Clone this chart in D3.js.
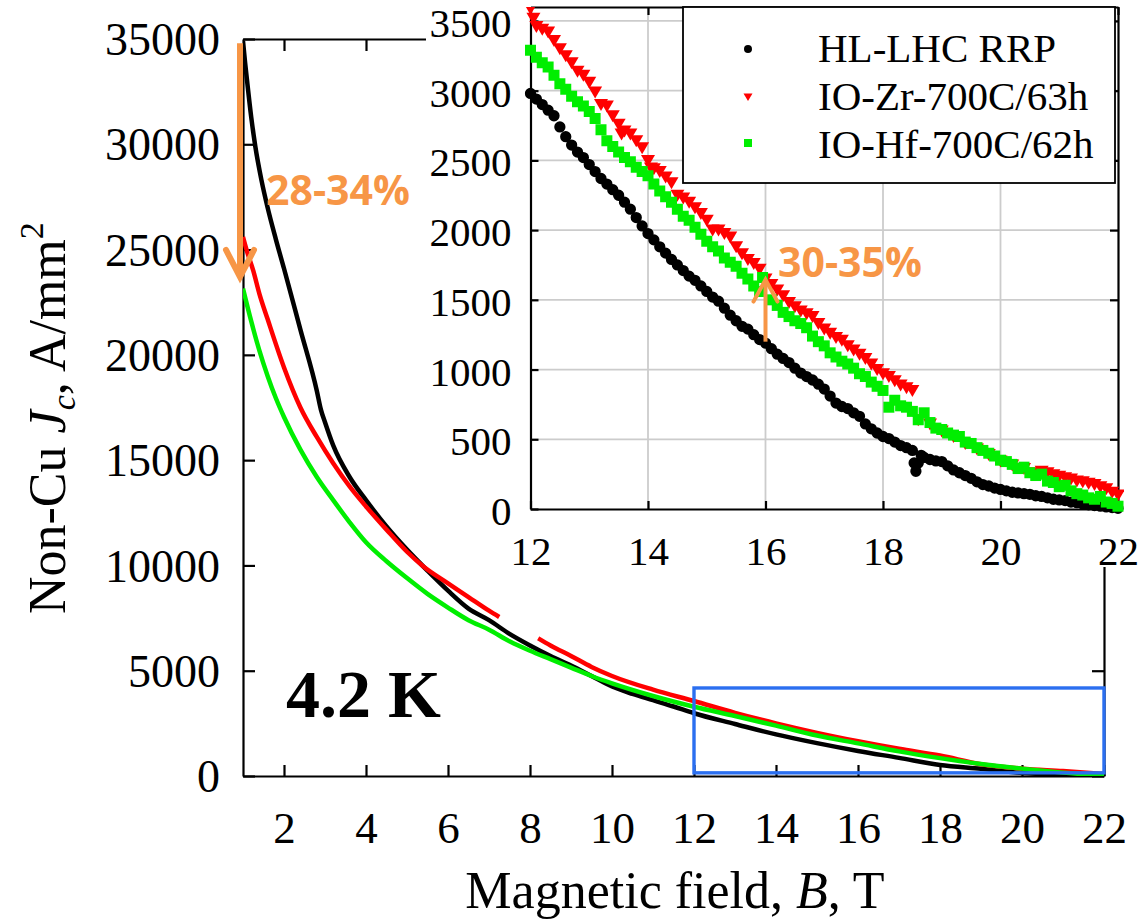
<!DOCTYPE html>
<html>
<head>
<meta charset="utf-8">
<script src="https://cdn.jsdelivr.net/npm/d3@7"></script>
<style>
  html, body { margin: 0; padding: 0; background: #fff; }
  svg text { font-family: "Liberation Serif", "Times New Roman", serif; }
</style>
</head>
<body>
<svg id="chart" width="1140" height="923"></svg>
<script>
// ---------------- DATA ----------------
const mainXTicks = [2, 4, 6, 8, 10, 12, 14, 16, 18, 20, 22];
const mainYTicks = [0, 5000, 10000, 15000, 20000, 25000, 30000, 35000];
const insetXTicks = [12, 14, 16, 18, 20, 22];
const insetYTicks = [0, 500, 1000, 1500, 2000, 2500, 3000, 3500];

const seriesNames = ["HL-LHC RRP", "IO-Zr-700C/63h", "IO-Hf-700C/62h"];
const seriesColors = ["#000000", "#ff0000", "#00ee00"];

// main panel (B [T], non-Cu Jc [A/mm2])
const mainRRP = [[1.0,34900],[1.05,33900],[1.1,33000],[1.2,31300],[1.3,29900],[1.45,28300],[1.6,27000],[1.8,25500],[2.0,24100],[2.4,21200],[2.8,18300],[2.9,17400],[3.0,16800],[3.2,15700],[3.6,14200],[4.0,13100],[4.5,11850],[5.0,10750],[5.5,9750],[6.0,8800],[6.5,7950],[7.0,7400],[7.5,6750],[8.0,6200],[8.5,5700],[9.0,5250],[9.5,4750],[10.0,4250],[10.5,3900],[11.0,3600],[11.5,3300],[12.0,2980],[13.0,2470],[14.0,1975],[15.0,1560],[16.0,1190],[17.0,860],[18.0,520],[19.0,340],[20.0,140],[21.0,65],[22.0,5]];
const mainZr = [[1.0,25600],[1.1,24900],[1.25,24000],[1.4,22900],[1.6,21700],[2.0,19400],[2.4,17500],[2.8,16100],[3.2,14850],[3.6,13750],[4.0,12800],[4.5,11700],[5.0,10650],[5.4,9950],[6.0,9150],[6.5,8500],[7.0,7850],[7.25,7550],[7.7,null],[8.2,6540],[8.5,6200],[9.0,5700],[9.5,5180],[10.0,4750],[11.0,4100],[12.0,3560],[13.0,3000],[14.0,2500],[15.0,2050],[16.0,1650],[17.0,1290],[18.0,970],[19.0,560],[20.0,350],[21.0,235],[22.0,100]];
const mainHf = [[1.0,23150],[1.2,21600],[1.4,20200],[1.6,19000],[1.8,17950],[2.0,17050],[2.4,15500],[2.8,14200],[3.2,13100],[3.6,12050],[4.0,11100],[4.5,10200],[5.0,9400],[5.5,8650],[6.0,8000],[6.5,7400],[7.0,6950],[7.5,6400],[8.0,5950],[8.5,5550],[9.0,5150],[9.5,4750],[10.0,4400],[11.0,3800],[12.0,3290],[13.0,2850],[14.0,2390],[15.0,1920],[16.0,1550],[17.0,1170],[18.0,850],[19.0,570],[20.0,350],[21.0,160],[22.0,20]];

// inset panel
const insetRRP = [[12.0,2980],[12.1,2940],[12.2,2900],[12.3,2860],[12.4,2820],[12.5,2740],[12.6,2670],[12.7,2610],[12.8,2560],[12.9,2520],[13.0,2470],[13.1,2420],[13.2,2370],[13.3,2330],[13.4,2290],[13.5,2250],[13.6,2200],[13.7,2150],[13.8,2090],[13.9,2030],[14.0,1975],[14.1,1930],[14.2,1880],[14.3,1835],[14.4,1790],[14.5,1750],[14.6,1710],[14.7,1670],[14.8,1640],[14.9,1600],[15.0,1560],[15.1,1520],[15.2,1490],[15.3,1440],[15.4,1390],[15.5,1350],[15.6,1310],[15.7,1290],[15.8,1250],[15.9,1215],[16.0,1190],[16.1,1150],[16.2,1110],[16.3,1080],[16.4,1050],[16.5,1010],[16.6,975],[16.7,950],[16.8,925],[16.9,895],[17.0,860],[17.1,810],[17.2,760],[17.3,735],[17.4,720],[17.5,690],[17.6,665],[17.7,610],[17.8,575],[17.9,545],[18.0,520],[18.1,505],[18.2,480],[18.3,455],[18.4,440],[18.5,420],[18.53,330],[18.56,270],[18.6,330],[18.65,385],[18.7,370],[18.8,355],[18.9,345],[19.0,340],[19.1,310],[19.2,280],[19.3,260],[19.4,240],[19.5,220],[19.6,195],[19.7,175],[19.8,165],[19.9,150],[20.0,140],[20.1,130],[20.2,120],[20.3,115],[20.4,110],[20.5,105],[20.6,95],[20.7,90],[20.8,80],[20.9,70],[21.0,65],[21.1,60],[21.2,50],[21.3,45],[21.4,35],[21.5,30],[21.6,25],[21.7,20],[21.8,15],[21.9,10],[22.0,5]];
const insetZr = [[12.0,3590],[12.05,3520],[12.1,3460],[12.2,3440],[12.3,3420],[12.4,3360],[12.5,3300],[12.6,3250],[12.7,3200],[12.8,3140],[12.9,3110],[13.0,3060],[13.1,2990],[13.2,2900],[13.3,2890],[13.4,2820],[13.5,2760],[13.55,2690],[13.6,2710],[13.7,2690],[13.8,2640],[13.9,2590],[14.0,2500],[14.05,2445],[14.1,2440],[14.2,2420],[14.3,2380],[14.4,2340],[14.5,2250],[14.6,2230],[14.7,2200],[14.8,2160],[14.9,2120],[15.0,2070],[15.1,2000],[15.2,2000],[15.3,1975],[15.4,1950],[15.5,1880],[15.6,1830],[15.7,1790],[15.8,1760],[15.9,1720],[16.0,1650],[16.1,1610],[16.2,1570],[16.3,1530],[16.4,1480],[16.5,1450],[16.6,1420],[16.7,1400],[16.8,1380],[16.9,1330],[17.0,1290],[17.1,1260],[17.2,1230],[17.3,1210],[17.4,1170],[17.5,1140],[17.6,1110],[17.7,1080],[17.8,1040],[17.9,1000],[18.0,970],[18.1,950],[18.2,920],[18.3,890],[18.4,870],[18.5,850],[18.6,640],[18.8,610],[19.0,560],[19.2,520],[19.4,470],[19.6,430],[19.8,390],[20.0,345],[20.2,315],[20.4,290],[20.6,260],[20.7,270],[20.8,260],[20.9,245],[21.0,235],[21.1,225],[21.2,215],[21.3,200],[21.4,195],[21.5,185],[21.6,175],[21.7,160],[21.8,145],[21.9,120],[22.0,100]];
const insetHf = [[12.0,3290],[12.1,3240],[12.2,3200],[12.3,3170],[12.4,3110],[12.5,3050],[12.6,3010],[12.7,2960],[12.8,2920],[12.9,2890],[13.0,2850],[13.1,2800],[13.2,2720],[13.3,2640],[13.4,2600],[13.5,2560],[13.6,2520],[13.7,2490],[13.8,2450],[13.9,2420],[14.0,2390],[14.1,2330],[14.2,2280],[14.3,2240],[14.4,2200],[14.5,2150],[14.6,2100],[14.7,2070],[14.8,2020],[14.9,1970],[15.0,1920],[15.1,1880],[15.2,1850],[15.3,1800],[15.4,1770],[15.5,1740],[15.6,1690],[15.7,1650],[15.8,1600],[15.9,1560],[15.95,1660],[16.1,1500],[16.2,1460],[16.3,1410],[16.4,1380],[16.5,1350],[16.6,1330],[16.7,1300],[16.8,1240],[16.9,1200],[17.0,1170],[17.1,1120],[17.2,1090],[17.3,1060],[17.4,1040],[17.5,1010],[17.6,970],[17.7,950],[17.8,910],[17.9,880],[18.0,850],[18.1,730],[18.2,780],[18.3,740],[18.4,730],[18.5,700],[18.6,640],[18.7,690],[18.8,620],[18.9,580],[19.0,570],[19.1,545],[19.2,530],[19.3,520],[19.4,480],[19.5,470],[19.6,440],[19.7,420],[19.8,400],[19.9,380],[20.0,350],[20.1,340],[20.2,320],[20.3,290],[20.4,300],[20.5,260],[20.6,240],[20.7,250],[20.8,200],[20.9,190],[21.0,160],[21.1,170],[21.2,130],[21.3,110],[21.4,100],[21.5,80],[21.6,70],[21.7,90],[21.8,50],[21.9,40],[22.0,20]];

// annotations
const mainArrow = {B: 1.0, from: 34800, to: 23700, label: "28-34%"};
const insetArrow = {B: 16.0, from: 1200, to: 1645, label: "30-35%"};
const zoomBox = {B0: 12, B1: 22, J0: 150, J1: 4180};

// ---------------- DRAW ----------------
const svg = d3.select("#chart");
const orange = "#F79646";
const blue = "#2B6FF0";

const x = d3.scaleLinear().domain([1, 22]).range([243, 1104]);
const y = d3.scaleLinear().domain([0, 35000]).range([776, 39]);

svg.append("defs").append("clipPath").attr("id", "mainclip")
  .append("rect").attr("x", 243).attr("y", 39).attr("width", 861).attr("height", 737);

function styleAxis(g) {
  g.selectAll("path.domain").attr("stroke", "#000").attr("stroke-width", 2.2);
  g.selectAll(".tick line").attr("stroke", "#000").attr("stroke-width", 2.2);
  g.selectAll("text").attr("fill", "#000").style("font-family", '"Liberation Serif", serif');
}
const gLeft = svg.append("g").attr("transform", "translate(243,0)")
  .call(d3.axisLeft(y).tickValues(mainYTicks).tickSize(-12).tickSizeOuter(0).tickPadding(23).tickFormat(d3.format("d")));
styleAxis(gLeft);
gLeft.selectAll("text").attr("font-size", 46).attr("dy", "0.34em");

const gBottom = svg.append("g").attr("transform", "translate(0,776)")
  .call(d3.axisBottom(x).tickValues(mainXTicks).tickSize(-11).tickSizeOuter(0).tickPadding(0));
styleAxis(gBottom);
gBottom.selectAll("text").attr("font-size", 45).attr("y", 67).attr("dy", 0);

const gTop = svg.append("g").attr("transform", "translate(0,39)")
  .call(d3.axisTop(x).tickValues(mainXTicks).tickSize(-12).tickSizeOuter(0).tickFormat(""));
styleAxis(gTop);
const gRight = svg.append("g").attr("transform", "translate(1104,0)")
  .call(d3.axisRight(y).tickValues(mainYTicks).tickSize(-12).tickSizeOuter(0).tickFormat(""));
styleAxis(gRight);

const line = d3.line().defined(d => d[1] !== null).x(d => x(d[0])).y(d => y(d[1])).curve(d3.curveMonotoneX);
const gCurves = svg.append("g").attr("clip-path", "url(#mainclip)");
[mainRRP, mainZr, mainHf].forEach((data, i) => {
  gCurves.append("path").datum(data).attr("d", line)
    .attr("fill", "none").attr("stroke", seriesColors[i]).attr("stroke-width", 4.5)
    .attr("stroke-linejoin", "round");
});

svg.append("rect")
  .attr("x", x(zoomBox.B0)).attr("y", y(zoomBox.J1))
  .attr("width", x(zoomBox.B1) - x(zoomBox.B0)).attr("height", y(zoomBox.J0) - y(zoomBox.J1))
  .attr("fill", "none").attr("stroke", blue).attr("stroke-width", 3.4);

svg.append("text").attr("x", 286).attr("y", 717).attr("font-size", 68).attr("font-weight", "bold")
  .text("4.2 K");

const ax = x(mainArrow.B) - 3;
svg.append("line").attr("x1", ax).attr("x2", ax).attr("y1", y(mainArrow.from)).attr("y2", y(mainArrow.to) - 2)
  .attr("stroke", orange).attr("stroke-width", 6);
svg.append("polyline")
  .attr("points", `${ax - 14},${y(mainArrow.to) - 27} ${ax},${y(mainArrow.to)} ${ax + 14},${y(mainArrow.to) - 27}`)
  .attr("fill", "none").attr("stroke", orange).attr("stroke-width", 6).attr("stroke-linecap", "round");
svg.append("text").attr("x", 266).attr("y", 205).attr("font-size", 41).attr("font-weight", 700)
  .style("font-family", '"Open Sans", sans-serif').attr("fill", orange).text(mainArrow.label);

const yTitle = svg.append("text").attr("transform", "translate(65,614) rotate(-90)")
  .attr("font-size", 52).attr("text-anchor", "start");
yTitle.append("tspan").text("Non-Cu ");
yTitle.append("tspan").attr("font-style", "italic").text("J");
yTitle.append("tspan").attr("font-style", "italic").attr("font-size", 34).attr("dy", 10).text("c");
yTitle.append("tspan").attr("dy", -10).text(", A/mm");
yTitle.append("tspan").attr("font-size", 34).attr("dy", -22).text("2");

const xTitle = svg.append("text").attr("x", 675).attr("y", 908).attr("font-size", 52).attr("text-anchor", "middle");
xTitle.append("tspan").text("Magnetic field, ");
xTitle.append("tspan").attr("font-style", "italic").text("B");
xTitle.append("tspan").text(", T");

// ---------------- INSET ----------------
svg.append("rect").attr("x", 426).attr("y", 0).attr("width", 714).attr("height", 536).attr("fill", "#fff");
svg.append("rect").attr("x", 505).attr("y", 536).attr("width", 635).attr("height", 31).attr("fill", "#fff");

const xi = d3.scaleLinear().domain([12, 22]).range([530.5, 1118]);
const yi = d3.scaleLinear().domain([0, 3600]).range([509, 7]);

const gGrid = svg.append("g");
gGrid.selectAll("line.h").data(insetYTicks.filter(d => d > 0)).join("line")
  .attr("x1", xi(12)).attr("x2", xi(22)).attr("y1", d => yi(d)).attr("y2", d => yi(d))
  .attr("stroke", "#cccccc").attr("stroke-width", 1.8);
gGrid.selectAll("line.v").data(insetXTicks.filter(d => d > 12 && d < 22)).join("line")
  .attr("x1", d => xi(d)).attr("x2", d => xi(d)).attr("y1", yi(3600)).attr("y2", yi(0))
  .attr("stroke", "#cccccc").attr("stroke-width", 1.8);

const giLeft = svg.append("g").attr("transform", `translate(${xi(12)},0)`)
  .call(d3.axisLeft(yi).tickValues(insetYTicks).tickSize(-8).tickSizeOuter(0).tickPadding(19).tickFormat(d3.format("d")));
styleAxis(giLeft);
giLeft.selectAll("text").attr("font-size", 41).attr("dy", "0.38em");
const giBottom = svg.append("g").attr("transform", `translate(0,${yi(0)})`)
  .call(d3.axisBottom(xi).tickValues(insetXTicks).tickSize(-8).tickSizeOuter(0).tickPadding(0));
styleAxis(giBottom);
giBottom.selectAll("text").attr("font-size", 41).attr("y", 56).attr("dy", 0);
const giTop = svg.append("g").attr("transform", `translate(0,${yi(3600)})`)
  .call(d3.axisTop(xi).tickValues(insetXTicks).tickSize(-8).tickSizeOuter(0).tickFormat(""));
styleAxis(giTop);
const giRight = svg.append("g").attr("transform", `translate(${xi(22)},0)`)
  .call(d3.axisRight(yi).tickValues(insetYTicks).tickSize(-8).tickSizeOuter(0).tickFormat(""));
styleAxis(giRight);

svg.append("defs").append("clipPath").attr("id", "insclip")
  .append("rect").attr("x", xi(12) - 6).attr("y", yi(3600)).attr("width", xi(22) - xi(12) + 12).attr("height", yi(0) - yi(3600) + 6);

const gPts = svg.append("g").attr("clip-path", "url(#insclip)");
const symCircle = d3.symbol().type(d3.symbolCircle).size(100)();
const symTri = "M-7,-5.5 L7,-5.5 L0,6.5 Z";
const symSq = "M-5.5,-5.5 H5.5 V5.5 H-5.5 Z";
const syms = [symCircle, symTri, symSq];
[insetRRP, insetZr, insetHf].forEach((data, i) => {
  gPts.selectAll(null).data(data).join("path")
    .attr("transform", d => `translate(${xi(d[0])},${yi(d[1])})`)
    .attr("d", syms[i]).attr("fill", seriesColors[i]);
});

const iax = xi(insetArrow.B);
svg.append("line").attr("x1", iax).attr("x2", iax).attr("y1", yi(insetArrow.from)).attr("y2", yi(insetArrow.to) + 2)
  .attr("stroke", orange).attr("stroke-width", 4);
svg.append("polyline")
  .attr("points", `${iax - 12},${yi(insetArrow.to) + 22} ${iax},${yi(insetArrow.to)} ${iax + 12},${yi(insetArrow.to) + 22}`)
  .attr("fill", "none").attr("stroke", orange).attr("stroke-width", 4).attr("stroke-linecap", "round");
svg.append("text").attr("x", 778).attr("y", 277).attr("font-size", 41).attr("font-weight", 700)
  .style("font-family", '"Open Sans", sans-serif').attr("fill", orange).text(insetArrow.label);

const gLeg = svg.append("g");
gLeg.append("rect").attr("x", 683).attr("y", 7).attr("width", 432).attr("height", 176)
  .attr("fill", "#fff").attr("stroke", "#000").attr("stroke-width", 1.8);
const legY = [62, 110, 158];
const legMarkY = [49, 97, 143];
seriesNames.forEach((name, i) => {
  gLeg.append("path").attr("transform", `translate(748,${legMarkY[i]})`)
    .attr("d", i === 0 ? d3.symbol().type(d3.symbolCircle).size(50)() : (i === 1 ? "M-4.5,-3.5 L4.5,-3.5 L0,4 Z" : "M-4,-4 H4 V4 H-4 Z"))
    .attr("fill", seriesColors[i]);
  gLeg.append("text").attr("x", 818).attr("y", legY[i]).attr("font-size", 41).text(name);
});
</script>
</body>
</html>
